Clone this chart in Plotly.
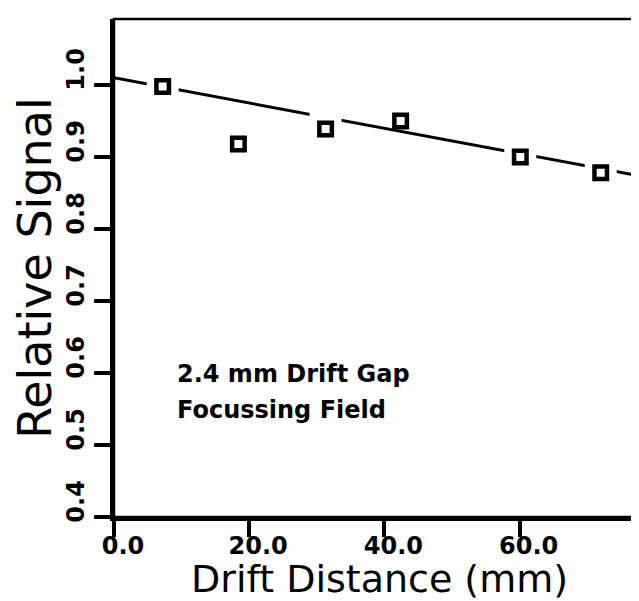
import plotly.graph_objects as go

# ---- data ----
distance_mm = [7.2, 18.4, 31.3, 42.4, 60.1, 72.0]
relative_signal = [0.998, 0.918, 0.939, 0.950, 0.900, 0.878]

# straight fit line (end points)
fit_x = [0.0, 76.5]
fit_y = [1.010, 0.876]

# points where the fit line is interrupted around the marker
break_idx = [0, 2, 4, 5]

x_ticks = [0, 20, 40, 60]
x_tick_labels = ["0.0", "20.0", "40.0", "60.0"]
y_ticks = [0.4, 0.5, 0.6, 0.7, 0.8, 0.9, 1.0]
y_tick_labels = ["0.4", "0.5", "0.6", "0.7", "0.8", "0.9", "1.0"]

x_range = [0, 78.4]
y_range = [0.4, 1.0917]

note_lines = ["2.4 mm Drift Gap", "Focussing Field"]
note_x = 9.0
note_y = [0.598, 0.549]

x_title = "Drift Distance (mm)"
y_title = "Relative Signal"

FONT = "DejaVu Sans"

fig = go.Figure()

fig.add_trace(go.Scatter(
    x=fit_x, y=fit_y, mode="lines",
    line=dict(color="black", width=3),
    hoverinfo="skip", showlegend=False,
))

fig.add_trace(go.Scatter(
    x=[distance_mm[i] for i in break_idx],
    y=[relative_signal[i] for i in break_idx],
    mode="markers",
    marker=dict(symbol="square", size=32, color="white", line=dict(width=0)),
    hoverinfo="skip", showlegend=False,
))

fig.add_trace(go.Scatter(
    x=distance_mm, y=relative_signal, mode="markers",
    marker=dict(symbol="square", size=12.5, color="white",
                line=dict(color="black", width=4.5)),
    showlegend=False,
))

for txt, yy in zip(note_lines, note_y):
    fig.add_annotation(
        x=note_x, y=yy, xref="x", yref="y", text=txt, showarrow=False,
        xanchor="left", yanchor="middle",
        font=dict(family=FONT, size=24, color="black", weight="bold"),
    )

# x-axis title placed as a paper annotation under the tick labels
fig.add_annotation(
    x=0.5, y=0, xref="paper", yref="paper", text=x_title, showarrow=False,
    xanchor="center", yanchor="bottom", yshift=-85, borderpad=0,
    font=dict(family=FONT, size=38, color="black"),
)

fig.add_shape(type="rect", xref="paper", yref="paper", x0=0, x1=1, y0=0, y1=1,
              line=dict(color="black", width=2.5), layer="above")

fig.update_layout(
    width=639, height=601,
    margin=dict(l=106, r=3, t=11, b=92),
    paper_bgcolor="white", plot_bgcolor="white",
    showlegend=False,
    xaxis=dict(
        range=x_range, tickvals=x_ticks, ticktext=x_tick_labels,
        ticks="outside", ticklen=16, tickwidth=4, tickcolor="black",
        showline=True, linewidth=4, linecolor="black",
        showgrid=False, zeroline=False,
        tickfont=dict(family=FONT, size=24, color="black", weight="bold"),
        ticklabelshift=9, ticklabelstandoff=-12,
    ),
    yaxis=dict(
        range=y_range, tickvals=y_ticks, ticktext=y_tick_labels,
        ticks="outside", ticklen=16, tickwidth=4, tickcolor="black",
        showline=True, linewidth=4, linecolor="black",
        showgrid=False, zeroline=False, tickangle=-90,
        tickfont=dict(family=FONT, size=24, color="black", weight="bold"),
        ticklabelshift=-12,
        title=dict(text=y_title, font=dict(family=FONT, size=46, color="black"),
                   standoff=2),
    ),
)

fig.write_html("out.html")
